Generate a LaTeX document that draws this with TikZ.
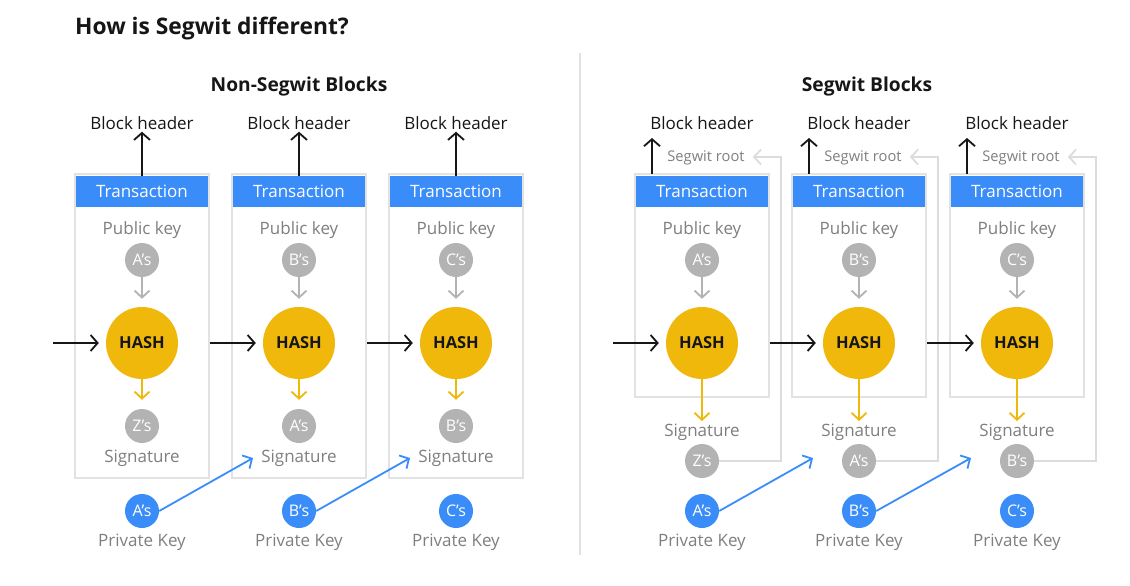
\documentclass[tikz,border=0pt]{standalone}
\usepackage{fontspec}
\setmainfont{Open Sans}
\usetikzlibrary{arrows.meta}
\definecolor{ibmblue}{HTML}{3A8DF8}
\definecolor{hashyel}{HTML}{F1B80C}
\definecolor{dotgrey}{HTML}{B3B3B3}
\definecolor{txtgrey}{HTML}{7F7F7F}
\definecolor{boxgrey}{HTML}{E2E2E2}
\definecolor{linegrey}{HTML}{DCDCDC}
\definecolor{inkblk}{HTML}{161616}
\tikzset{
  lbl/.style={font=\fontsize{17}{19}\selectfont, text=txtgrey, inner sep=1pt},
  bhdr/.style={font=\fontsize{17}{19}\selectfont, text=inkblk, inner sep=2pt},
  rootlbl/.style={font=\fontsize{14.7}{16}\selectfont, text=txtgrey, inner sep=1pt},
  hdr/.style={fill=ibmblue, text=white, font=\fontsize{17}{19}\selectfont, minimum width=132pt, minimum height=31pt, inner sep=0},
  gdot/.style={circle, fill=dotgrey, text=white, minimum size=34pt, inner sep=0, font=\fontsize{16}{18}\selectfont},
  bdot/.style={circle, fill=ibmblue, text=white, minimum size=34pt, inner sep=0, font=\fontsize{16}{18}\selectfont},
  hashdot/.style={circle, fill=hashyel, text=inkblk, minimum size=72pt, inner sep=0, font=\bfseries\fontsize{16.5}{18}\selectfont},
  blockbox/.style={draw=boxgrey, line width=2pt, minimum width=134pt, inner sep=0},
  blk/.style={draw=inkblk, line width=1.8pt, -{Straight Barb[length=7pt,width=16pt,line width=1.8pt]}},
  garr/.style={draw=dotgrey, line width=1.8pt, -{Straight Barb[length=7pt,width=15pt,line width=1.8pt]}},
  yarr/.style={draw=hashyel, line width=1.8pt, -{Straight Barb[length=7pt,width=15pt,line width=1.8pt]}},
  barr/.style={draw=ibmblue, line width=1.8pt, -{Straight Barb[length=7pt,width=15pt,line width=1.8pt]}},
  larr/.style={draw=linegrey, line width=1.8pt, -{Straight Barb[length=7pt,width=15pt,line width=1.8pt]}},
}
\begin{document}
\begin{tikzpicture}[x=1pt,y=-1pt]
\useasboundingbox[fill=white] (0,0) rectangle (1130,586);
\node[anchor=west, inner sep=0, font=\bfseries\fontsize{22.8}{26}\selectfont, text=inkblk] (title) at (75,29) {How is Segwit different?};
\node[inner sep=0, font=\bfseries\fontsize{19.2}{22}\selectfont, text=inkblk] (nsttl) at (299,87) {Non-Segwit Blocks};
\node[inner sep=0, font=\bfseries\fontsize{19.2}{22}\selectfont, text=inkblk] (sttl) at (867,87) {Segwit Blocks};
\draw[boxgrey, line width=1.8pt] (580,53) coordinate (dv1) -- (580,555) coordinate (dv2);

% ---------- Non-Segwit ----------
\foreach \i/\cx/\p/\s in {1/142/A/Z, 2/299/B/A, 3/456/C/B} {
  \node[blockbox, minimum height=304pt] (nb\i) at (\cx,326) {};
  \node[hdr] (nt\i) at (\cx,191.5) {Transaction};
  \node[bhdr] (nbh\i) at (\cx,123) {Block header};
  \node[lbl] (npkl\i) at (\cx,230) {Public key};
  \node[gdot] (npk\i) at (\cx,260) {\p’s};
  \node[hashdot] (nh\i) at (\cx,343) {HASH};
  \node[gdot] (ns\i) at (\cx,426) {\s’s};
  \node[lbl] (nsl\i) at (\cx,458.5) {Signature};
  \node[bdot] (npr\i) at (\cx,511) {\p’s};
  \node[lbl] (nprl\i) at (\cx,542.5) {Private Key};
  \draw[blk] (nt\i.north) -- (nbh\i.south);
  \draw[garr, shorten >=8pt] (npk\i.south) -- (nh\i.north);
  \draw[yarr, shorten >=9pt] (nh\i.south) -- (ns\i.north);
}
\coordinate (nin) at (53,343);
\draw[blk, shorten >=7pt] (nin) -- (nh1.west);
\draw[blk, shorten >=7pt] (nb1.east |- nh2.west) -- (nh2.west);
\draw[blk, shorten >=7pt] (nb2.east |- nh3.west) -- (nh3.west);
\coordinate (ntip2) at (253,458);
\coordinate (ntip3) at (410,458);
\draw[barr] (npr1.east) -- (ntip2);
\draw[barr] (npr2.east) -- (ntip3);

% ---------- Segwit ----------
\foreach \i/\cx/\p/\s in {1/702/A/Z, 2/859/B/A, 3/1017/C/B} {
  \node[blockbox, minimum height=223pt] (sb\i) at (\cx,285.5) {};
  \node[hdr] (st\i) at (\cx,191.5) {Transaction};
  \node[bhdr] (sbh\i) at (\cx,123) {Block header};
  \node[rootlbl] (sr\i) at (\cx+4,158) {Segwit root};
  \node[lbl] (spkl\i) at (\cx,230) {Public key};
  \node[gdot] (spk\i) at (\cx,260) {\p’s};
  \node[hashdot] (sh\i) at (\cx,343) {HASH};
  \node[lbl] (ssl\i) at (\cx,432.5) {Signature};
  \node[gdot] (ss\i) at (\cx,461) {\s’s};
  \node[bdot] (spr\i) at (\cx,511) {\p’s};
  \node[lbl] (sprl\i) at (\cx,542.5) {Private Key};
  \coordinate (sba\i) at (\cx-50,174);
  \coordinate (sbt\i) at (\cx-50,138);
  \draw[blk] (sba\i) -- (sbt\i);
  \draw[garr, shorten >=8pt] (spk\i.south) -- (sh\i.north);
  \draw[yarr, shorten >=2pt] (sh\i.south) -- (ssl\i.north);
  \coordinate (rc\i) at (\cx+79,157);
  \draw[larr, shorten >=7pt] (ss\i.east) -| (rc\i) -- (sr\i.east |- rc\i);
}
\coordinate (sin) at (613,343);
\draw[blk, shorten >=7pt] (sin) -- (sh1.west);
\draw[blk, shorten >=7pt] (sb1.east |- sh2.west) -- (sh2.west);
\draw[blk, shorten >=7pt] (sb2.east |- sh3.west) -- (sh3.west);
\coordinate (stip2) at (813,458);
\coordinate (stip3) at (971,458);
\draw[barr] (spr1.east) -- (stip2);
\draw[barr] (spr2.east) -- (stip3);
\end{tikzpicture}
\end{document}
